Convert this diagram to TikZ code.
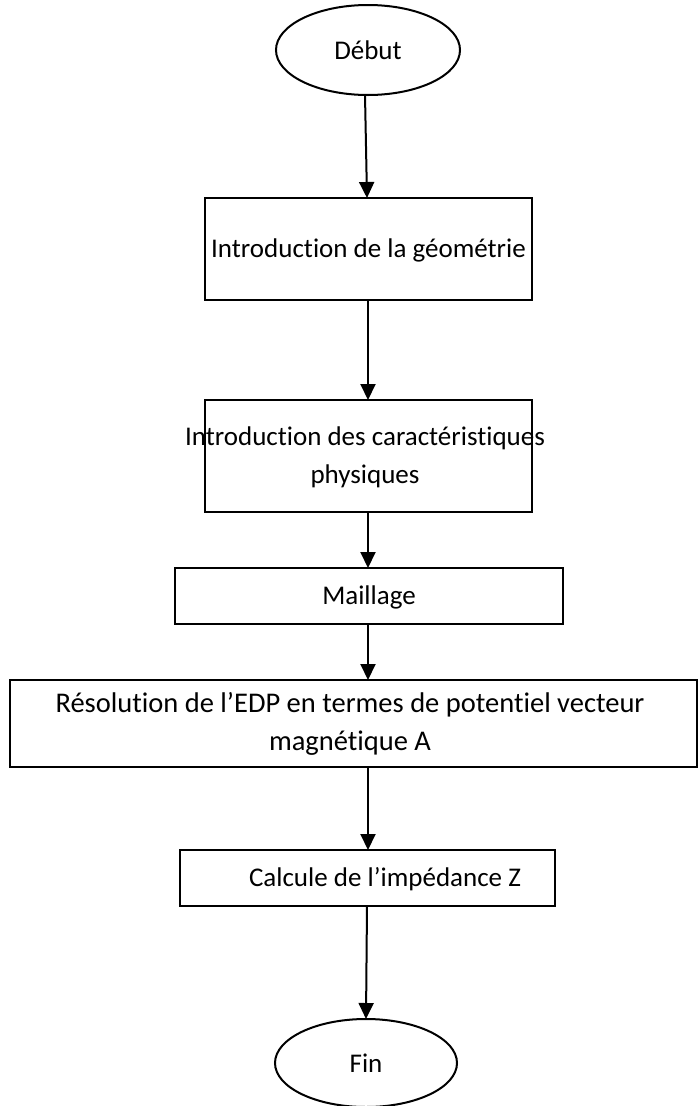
\documentclass[tikz,border=0pt]{standalone}
\usepackage{fontspec}
\setmainfont{Carlito}[Ligatures=NoCommon]
\usetikzlibrary{shapes.geometric,arrows.meta}
\begin{document}
\begin{tikzpicture}[x=1pt,y=1pt,
  every node/.style={font=\fontsize{27}{38}\selectfont, inner sep=0pt, outer sep=0pt},
  boxshape/.style={draw, line width=2pt, rectangle, align=center},
  ovalshape/.style={draw, line width=2pt, ellipse},
  flowarrow/.style={line width=2pt, -{Triangle[length=16pt,width=15pt]}}
]
\useasboundingbox (0,0) rectangle (698,-1106);
\begin{scope}
\clip (0,0) rectangle (698,-1106);
\node[ovalshape, minimum width=184pt, minimum height=90pt] (debut) at (368,-50) {Début};
\node[boxshape, minimum width=327pt, minimum height=102pt] (b1) at (368.5,-249) {};
\node (t1) at (368.5,-250) {Introduction de la géométrie};
\node[boxshape, minimum width=327pt, minimum height=112pt] (b2) at (368.5,-456) {};
\node[align=center] (t2) at (365,-457) {Introduction des caractéristiques\\physiques};
\node[boxshape, minimum width=388pt, minimum height=56pt] (b3) at (369,-596) {};
\node (t3) at (369,-597) {Maillage};
\node[boxshape, minimum width=687pt, minimum height=87pt] (b4) at (353.5,-723.5) {};
\node[align=center,font=\fontsize{28.5}{38}\selectfont] (t4) at (350,-724) {Résolution de l’EDP en termes de potentiel vecteur\\magnétique A};
\node[boxshape, minimum width=375pt, minimum height=56pt] (b5) at (367.5,-878) {};
\node (t5) at (385,-879) {Calcule de l’impédance Z};
\node[ovalshape, minimum width=182pt, minimum height=88pt] (fin) at (366,-1063) {Fin};
\coordinate (a1s) at (365,-95);
\coordinate (a6s) at (367,-906);
\draw[flowarrow] (a1s) -- (b1.north -| 367,0);
\draw[flowarrow] (b1.south -| 368,0) -- (b2.north -| 368,0);
\draw[flowarrow] (b2.south -| 368,0) -- (b3.north -| 368,0);
\draw[flowarrow] (b3.south -| 368,0) -- (b4.north -| 368,0);
\draw[flowarrow] (b4.south -| 368,0) -- (b5.north -| 368,0);
\draw[flowarrow] (a6s) -- (fin.north);
\end{scope}
\end{tikzpicture}
\end{document}
